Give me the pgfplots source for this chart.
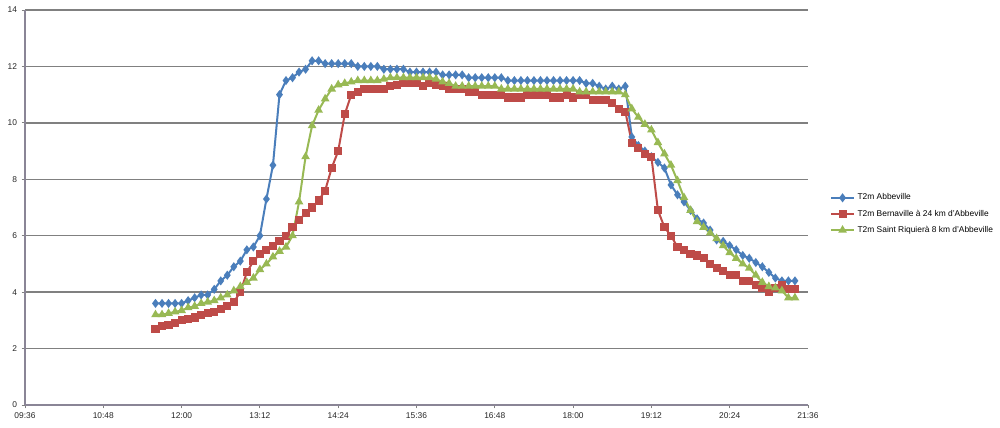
\documentclass[border=0pt]{standalone}
\usepackage{fontspec}
\setmainfont{Liberation Sans}
\usepackage{pgfplots}
\usepackage{pgfplotstable}
\pgfplotsset{compat=1.18}
\definecolor{cblue}{HTML}{4A7EBB}
\definecolor{cred}{HTML}{BE4B48}
\definecolor{cgreen}{HTML}{98B954}
\definecolor{gridc}{HTML}{808080}
\definecolor{axc}{HTML}{8A8596}

\pgfplotstableread{
t a b c
696 3.6 2.7 3.2
702 3.6 2.8 3.2
708 3.6 2.85 3.25
714 3.6 2.9 3.3
720 3.6 3.0 3.35
726 3.7 3.05 3.45
732 3.8 3.1 3.5
738 3.9 3.2 3.6
744 3.9 3.25 3.65
750 4.1 3.3 3.7
756 4.4 3.4 3.8
762 4.6 3.5 3.9
768 4.9 3.65 4.05
774 5.1 4.0 4.2
780 5.5 4.7 4.35
786 5.6 5.1 4.5
792 6.0 5.35 4.8
798 7.3 5.5 5.0
804 8.5 5.65 5.25
810 11.0 5.8 5.45
816 11.5 6.0 5.6
822 11.6 6.3 6.0
828 11.8 6.55 7.2
834 11.9 6.8 8.8
840 12.2 7.0 9.9
846 12.2 7.25 10.45
852 12.1 7.6 10.85
858 12.1 8.4 11.2
864 12.1 9.0 11.35
870 12.1 10.3 11.4
876 12.1 11.0 11.45
882 12.0 11.1 11.5
888 12.0 11.2 11.5
894 12.0 11.2 11.5
900 12.0 11.2 11.5
906 11.9 11.2 11.55
912 11.9 11.3 11.6
918 11.9 11.35 11.6
924 11.9 11.4 11.6
930 11.8 11.4 11.6
936 11.8 11.4 11.6
942 11.8 11.3 11.6
948 11.8 11.4 11.6
954 11.8 11.35 11.55
960 11.7 11.3 11.45
966 11.7 11.2 11.4
972 11.7 11.2 11.3
978 11.7 11.2 11.3
984 11.6 11.1 11.3
990 11.6 11.1 11.3
996 11.6 11.0 11.3
1002 11.6 11.0 11.3
1008 11.6 11.0 11.3
1014 11.6 11.0 11.2
1020 11.5 10.9 11.2
1026 11.5 10.9 11.2
1032 11.5 10.9 11.2
1038 11.5 11.0 11.2
1044 11.5 11.0 11.2
1050 11.5 11.0 11.2
1056 11.5 11.0 11.2
1062 11.5 10.9 11.2
1068 11.5 10.9 11.2
1074 11.5 11.0 11.2
1080 11.5 10.9 11.2
1086 11.5 11.0 11.1
1092 11.4 11.0 11.1
1098 11.4 10.8 11.1
1104 11.3 10.8 11.1
1110 11.2 10.8 11.1
1116 11.3 10.7 11.1
1122 11.2 10.5 11.1
1128 11.3 10.4 11.0
1134 9.5 9.3 10.5
1140 9.2 9.1 10.2
1146 9.0 8.9 9.95
1152 8.8 8.8 9.75
1158 8.6 6.9 9.3
1164 8.4 6.3 8.9
1170 7.8 6.0 8.5
1176 7.45 5.6 7.95
1182 7.2 5.5 7.35
1188 6.9 5.35 6.9
1194 6.6 5.3 6.5
1200 6.45 5.2 6.3
1206 6.2 5.0 6.1
1212 5.85 4.85 5.9
1218 5.8 4.75 5.65
1224 5.65 4.6 5.4
1230 5.5 4.6 5.2
1236 5.3 4.4 5.0
1242 5.2 4.4 4.85
1248 5.05 4.25 4.6
1254 4.9 4.15 4.35
1260 4.7 4.0 4.2
1266 4.5 4.15 4.15
1272 4.4 4.25 4.05
1278 4.4 4.1 3.8
1284 4.4 4.1 3.8
}\data

\begin{document}
\begin{tikzpicture}[x=0.75pt,y=0.75pt]
\path[use as bounding box] (0,0) rectangle (1000,428);
\begin{axis}[
  at={(18.75pt,17.25pt)}, anchor=south west,
  scale only axis, width=587.25pt, height=296.25pt,
  xmin=576, xmax=1296, ymin=0, ymax=14,
  axis x line=bottom, axis y line=left,
  axis line style={axc, line width=1.2pt, -},
  xtick={576,648,720,792,864,936,1008,1080,1152,1224,1296},
  xticklabels={09:36,10:48,12:00,13:12,14:24,15:36,16:48,18:00,19:12,20:24,21:36},
  ytick={0,2,4,6,8,10,12,14},
  ymajorgrids, grid style={gridc, line width=1.1pt},
  tick style={gridc, line width=0.6pt},
  tick align=outside, major tick length=2.5pt,
  ticklabel style={font=\fontsize{6.3}{7}\selectfont, text=black!85},
  /pgf/number format/assume math mode=true,
  clip=false,
  legend cell align=left,
  legend style={at={(1.028,0.4835)}, anchor=west, draw=none, fill=none,
    font=\fontsize{6.3}{7}\selectfont, row sep=2pt, inner sep=0pt},
]
\addplot[cblue, line width=1.5pt, mark=diamond*, mark size=2.2pt, mark options={solid, fill=cblue}] table[x=t,y=a]{\data};
\addlegendentry{T2m Abbeville}
\addplot[cred, line width=1.5pt, mark=square*, mark size=2.3pt, mark options={solid, fill=cred}] table[x=t,y=b]{\data};
\addlegendentry{T2m Bernaville à 24 km d'Abbeville}
\addplot[cgreen, line width=1.5pt, mark=triangle*, mark size=2.3pt, mark options={solid, fill=cgreen}] table[x=t,y=c]{\data};
\addlegendentry{T2m Saint Riquierà 8 km d'Abbeville}
\end{axis}
\end{tikzpicture}
\end{document}
